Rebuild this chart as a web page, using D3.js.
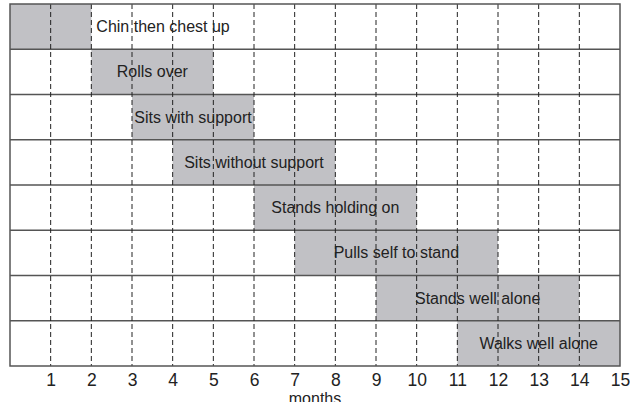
<!DOCTYPE html>
<html>
<head>
<meta charset="utf-8">
<script src="https://cdn.jsdelivr.net/npm/d3@7"></script>
<style>
body { margin: 0; background: #fff; }
svg text { font-family: "Liberation Sans", Arial, sans-serif; }
</style>
</head>
<body>
<div id="chartContainer"></div>
<script>
// milestones, start and end month of each
const milestones = ['Chin then chest up', 'Rolls over', 'Sits with support', 'Sits without support',
    'Stands holding on', 'Pulls self to stand', 'Stands well alone', 'Walks well alone'];
const startMonths = [0, 2, 3, 4, 6, 7, 9, 11];
const endMonths = [2, 5, 6, 8, 10, 12, 14, 15];
const monthTicks = [1, 2, 3, 4, 5, 6, 7, 8, 9, 10, 11, 12, 13, 14, 15];

const width = 630;
const height = 402;
const margin = { top: 4, right: 10, bottom: 36, left: 10 };
const w = width - margin.left - margin.right;
const h = height - margin.top - margin.bottom;

const data = milestones.map((m, i) => ({ name: m, start: startMonths[i], end: endMonths[i] }));

const svg = d3.select('#chartContainer')
    .append('svg')
    .attr('width', width)
    .attr('height', height)
    .append('g')
    .attr('transform', `translate(${margin.left},${margin.top})`);

const x = d3.scaleLinear().domain([0, 15]).range([0, w]);
const y = d3.scaleBand().domain(milestones).range([0, h]).padding(0);

// bars
svg.append('g')
    .selectAll('rect')
    .data(data)
    .enter().append('rect')
    .attr('x', d => x(d.start))
    .attr('y', d => y(d.name))
    .attr('width', d => x(d.end) - x(d.start))
    .attr('height', y.bandwidth())
    .attr('fill', '#c1c1c5');

// labels: centred in the bar when they fit, else just right of it
const labels = svg.append('g')
    .selectAll('text')
    .data(data)
    .enter().append('text')
    .attr('y', d => y(d.name) + y.bandwidth() / 2)
    .attr('dy', '0.35em')
    .attr('font-size', 16)
    .attr('fill', '#222')
    .text(d => d.name);

labels.each(function (d) {
    const tw = this.getComputedTextLength();
    const bw = x(d.end) - x(d.start);
    if (tw + 4 < bw) {
        d3.select(this).attr('x', (x(d.start) + x(d.end)) / 2).attr('text-anchor', 'middle');
    } else {
        d3.select(this).attr('x', x(d.end) + 5).attr('text-anchor', 'start');
    }
});

// row separators
svg.append('g')
    .selectAll('line')
    .data(milestones.slice(1))
    .enter().append('line')
    .attr('x1', 0)
    .attr('x2', w)
    .attr('y1', d => y(d))
    .attr('y2', d => y(d))
    .attr('stroke', '#555')
    .attr('stroke-width', 1.5);

// dashed month lines
svg.append('g')
    .selectAll('line')
    .data(monthTicks.slice(0, -1))
    .enter().append('line')
    .attr('x1', d => x(d))
    .attr('x2', d => x(d))
    .attr('y1', 0)
    .attr('y2', h)
    .attr('stroke', '#222')
    .attr('stroke-width', 1)
    .attr('stroke-dasharray', '5,3');

// frame
svg.append('rect')
    .attr('x', 0)
    .attr('y', 0)
    .attr('width', w)
    .attr('height', h)
    .attr('fill', 'none')
    .attr('stroke', '#555')
    .attr('stroke-width', 1.5);

// X Axis
const xAxis = svg.append('g')
    .attr('transform', `translate(0,${h})`)
    .call(d3.axisBottom(x).tickValues(monthTicks).tickSize(0).tickPadding(8));
xAxis.select('.domain').remove();
xAxis.selectAll('text')
    .attr('font-size', 17.5)
    .attr('font-family', '"Liberation Sans", Arial, sans-serif')
    .attr('fill', '#222');

// axis title, partly below the bottom edge as in the original
svg.append('text')
    .attr('x', w / 2)
    .attr('y', h + 38)
    .attr('text-anchor', 'middle')
    .attr('font-size', 16)
    .attr('fill', '#222')
    .text('months');
</script>
</body>
</html>
